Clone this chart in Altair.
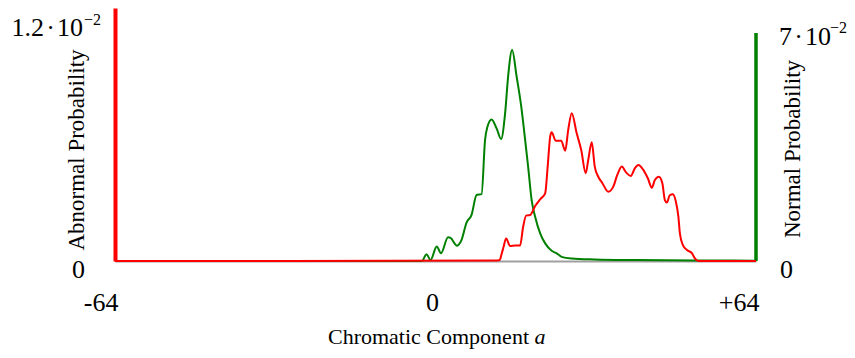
import altair as alt
import pandas as pd

FONT = "Liberation Serif"

# Normal (green) probability curve, right scale
green_a = [-64, -2.7, -1.8, -1.0, 0.25, 1.1, 2.5, 3.0, 4.3, 5.2,
           6.2, 7.2, 8.2, 9.2, 9.9, 10.3, 11.2, 12.2, 13.1, 13.9,
           14.5, 15.3, 16.2, 17.1, 17.9, 18.5, 19.2, 19.9, 20.9, 21.9,
           23.2, 24.2, 25.2, 27.2, 31.8, 40, 55, 64]
green_p = [0, 0, 0.0021, 0.0003, 0.0045, 0.0024, 0.0074, 0.0072, 0.0048, 0.0066,
           0.0120, 0.0144, 0.0206, 0.0209, 0.0378, 0.0415, 0.0442, 0.0414, 0.0381, 0.0461,
           0.0576, 0.0659, 0.0576, 0.0485, 0.0378, 0.0294, 0.0190, 0.0138, 0.0086, 0.0055,
           0.0032, 0.0024, 0.0013, 0.0008, 0.0005, 0.0003, 0.00015, 0.0001]

# Abnormal (red) probability curve, left scale
red_a = [-64, 12.0, 12.8, 13.2, 13.6, 14.1, 14.9, 15.9, 16.9, 17.5,
         18.1, 18.9, 19.9, 20.9, 21.9, 22.4, 22.9, 23.2, 24.0, 25.1,
         25.9, 26.5, 27.2, 28.2, 29.1, 30.0, 30.5, 31.2, 31.8, 32.5,
         33.3, 34.5, 35.5, 36.3, 37.2, 38.1, 39.0, 39.8, 40.5, 41.5,
         42.4, 43.2, 43.8, 44.6, 45.3, 45.8, 46.2, 46.8, 47.4, 48.0,
         48.5, 48.8, 49.4, 50.2, 51.2, 51.8, 52.5, 64]
red_p = [0, 0.00002, 0.00005, 0.00036, 0.00073, 0.00116, 0.00077, 0.00080, 0.00080, 0.00176,
         0.00233, 0.00236, 0.00283, 0.00317, 0.00348, 0.00485, 0.00639, 0.00661, 0.00618, 0.00618,
         0.00567, 0.00673, 0.00759, 0.00656, 0.00570, 0.00451, 0.00519, 0.00610, 0.00485, 0.00433,
         0.00401, 0.00356, 0.00382, 0.00442, 0.00485, 0.00454, 0.00437, 0.00476, 0.00493, 0.00468,
         0.00425, 0.00377, 0.00416, 0.00433, 0.00399, 0.00313, 0.00300, 0.00339, 0.00343, 0.00305,
         0.00228, 0.00142, 0.00082, 0.00057, 0.00040, 0.00014, 0, 0]

x_ticks = [-64, 0, 64]
x_domain = [-64, 64]
left_domain = [0, 0.013]
right_domain = [0, 0.079]
right_axis_top = 0.0712

left_tick_values = [0, 0.012]
left_tick_text = ["0", "1.2\u200a\u00b7\u200a10"]
left_tick_exp = ["", "\u22122"]
right_tick_values = [0, 0.07]
right_tick_text = ["0", "7\u200a\u00b7\u200a10"]
right_tick_exp = ["", "\u22122"]

x_title_main = "Chromatic Component"
x_title_var = "a"
left_title = "Abnormal Probability"
right_title = "Normal Probability"

red_df = pd.DataFrame({"a": red_a, "p": red_p})
green_df = pd.DataFrame({"a": green_a, "p": green_p})
left_lbl = pd.DataFrame({"v": left_tick_values, "t": left_tick_text, "e": left_tick_exp})
right_lbl = pd.DataFrame({"v": right_tick_values, "t": right_tick_text, "e": right_tick_exp})

x_enc = alt.X(
    "a:Q",
    scale=alt.Scale(domain=x_domain, nice=False, zero=False),
    axis=alt.Axis(
        values=x_ticks, title=None, grid=False, ticks=False, tickSize=0,
        domainColor="#a0a0a0", domainWidth=2,
        labelFont=FONT, labelFontSize=26, labelColor="black",
        labelPadding=49, labelBaseline="alphabetic", labelAlign="right",
        labelOffset=3, labelFlush=False, labelOverlap=False,
        labelExpr="datum.value < 0 ? '-' + abs(datum.value) : (datum.value > 0 ? '+' + datum.value : '0')",
    ),
)

left_scale = alt.Scale(domain=left_domain, nice=False, zero=True)
right_scale = alt.Scale(domain=right_domain, nice=False, zero=True)
left_axis = alt.Axis(orient="left", domainColor="red", domainWidth=4, ticks=False,
                     labels=False, grid=False, title=None)

red_line = alt.Chart(red_df).mark_line(color="red", strokeWidth=2, interpolate="monotone").encode(
    x=x_enc, y=alt.Y("p:Q", scale=left_scale, axis=left_axis))
green_line = alt.Chart(green_df).mark_line(color="green", strokeWidth=2, interpolate="monotone").encode(
    x=x_enc, y=alt.Y("p:Q", scale=right_scale, axis=None))

green_rule = alt.Chart(pd.DataFrame({"k": [0]})).mark_rule(color="green", strokeWidth=3.5).encode(
    x=alt.XDatum(x_domain[1]),
    y=alt.YDatum(0, scale=right_scale, axis=None),
    y2=alt.Y2Datum(right_axis_top),
)


def tick_text(df, filt, field, xpx, align, dy, size, scale, axis):
    return alt.Chart(df).transform_filter(filt).mark_text(
        align=align, baseline="alphabetic", dy=dy, fontSize=size, font=FONT, color="black"
    ).encode(x=alt.value(xpx), y=alt.Y("v:Q", scale=scale, axis=axis), text=f"{field}:N")


left_layer = alt.layer(
    red_line,
    tick_text(left_lbl, "datum.v == 0", "t", -30, "right", 17, 26, left_scale, left_axis),
    tick_text(left_lbl, "datum.v > 0", "t", -32, "right", 8.5, 26, left_scale, left_axis),
    tick_text(left_lbl, "datum.v > 0", "e", -31, "left", -2.5, 16, left_scale, left_axis),
)

right_layer = alt.layer(
    green_line,
    green_rule,
    tick_text(right_lbl, "datum.v == 0", "t", 665, "left", 17, 26, right_scale, None),
    tick_text(right_lbl, "datum.v > 0", "t", 664, "left", 8.2, 26, right_scale, None),
    tick_text(right_lbl, "datum.v > 0", "e", 715, "left", -3.8, 16, right_scale, None),
)


def title_text(txt, xpx, ypx, align, angle=0, style="normal", size=22):
    return alt.Chart(pd.DataFrame({"t": [txt]})).mark_text(
        align=align, baseline="alphabetic", angle=angle, fontSize=size, font=FONT,
        fontStyle=style, color="black"
    ).encode(x=alt.value(xpx), y=alt.value(ypx), text="t:N")


titles = alt.layer(
    title_text(x_title_main, 414, 336, "right"),
    title_text(x_title_var, 419.5, 336, "left", style="italic"),
    title_text(left_title, -31, 142, "center", angle=270, size=23),
    title_text(right_title, 685, 141, "center", angle=270, size=23),
)

chart = alt.layer(right_layer, left_layer, titles).resolve_scale(y="independent").properties(
    width=641, height=253,
    padding={"left": 107, "top": 0, "right": 91, "bottom": 89},
    autosize=alt.AutoSizeParams(type="none"),
    background="white",
).configure_view(stroke=None)

chart.save("out.html", embed_options={"renderer": "svg", "actions": False})
